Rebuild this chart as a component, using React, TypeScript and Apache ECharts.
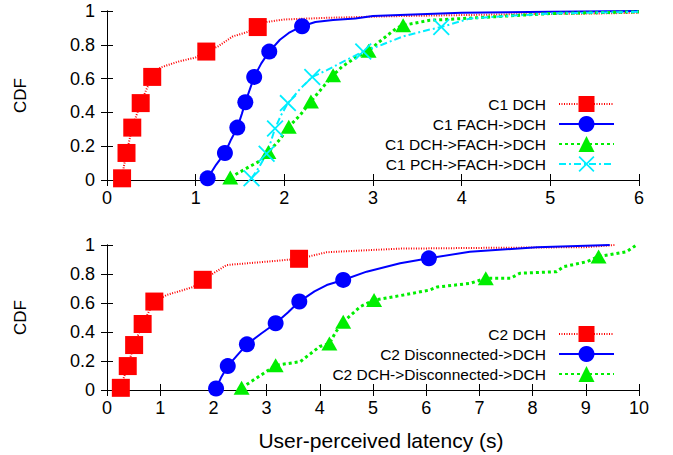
import React, { useEffect, useRef } from "react";
import * as echarts from "echarts";

// [latency (s), CDF, marker?]
const c1Dch: number[][] = [
  [0.17, 0.01, 1], [0.19, 0.08, 0], [0.22, 0.16, 1], [0.25, 0.23, 0], [0.285, 0.31, 1],
  [0.33, 0.38, 0], [0.38, 0.455, 1], [0.44, 0.53, 0], [0.51, 0.61, 1], [0.6, 0.665, 0],
  [0.8, 0.7, 0], [1.0, 0.725, 0], [1.12, 0.76, 1], [1.25, 0.79, 0], [1.42, 0.85, 0],
  [1.58, 0.875, 0], [1.7, 0.905, 1], [1.8, 0.935, 0], [2.0, 0.95, 0], [2.5, 0.96, 0],
  [3.3, 0.97, 0], [4.5, 0.98, 0], [5.5, 0.985, 0], [6.0, 0.99, 0],
];
const c1FachDch: number[][] = [
  [1.135, 0.01, 1], [1.23, 0.09, 0], [1.33, 0.16, 1], [1.4, 0.24, 0], [1.47, 0.31, 1],
  [1.52, 0.39, 0], [1.56, 0.46, 1], [1.61, 0.535, 0], [1.66, 0.61, 1], [1.74, 0.69, 0],
  [1.83, 0.76, 1], [1.95, 0.83, 0], [2.05, 0.87, 0], [2.2, 0.91, 1], [2.35, 0.935, 0],
  [2.55, 0.947, 0], [2.8, 0.955, 0], [3.0, 0.97, 0], [3.3, 0.976, 0], [4.0, 0.99, 0],
  [5.0, 0.995, 0], [6.0, 1.0, 0],
];
const c1DchFachDch: number[][] = [
  [1.39, 0.015, 1], [1.61, 0.08, 0], [1.75, 0.12, 0], [1.82, 0.165, 1], [1.95, 0.24, 0],
  [2.05, 0.315, 1], [2.18, 0.385, 0], [2.3, 0.465, 1], [2.42, 0.54, 0], [2.55, 0.62, 1],
  [2.65, 0.67, 0], [2.82, 0.73, 0], [2.95, 0.765, 1], [3.1, 0.83, 0], [3.27, 0.9, 0],
  [3.34, 0.915, 1], [3.64, 0.945, 0], [4.0, 0.955, 0], [4.5, 0.97, 0], [5.0, 0.985, 0],
  [6.0, 0.995, 0],
];
const c1PchFachDch: number[][] = [
  [1.63, 0.01, 1], [1.72, 0.08, 0], [1.8, 0.155, 1], [1.85, 0.23, 0], [1.895, 0.305, 1],
  [1.96, 0.38, 0], [2.04, 0.455, 1], [2.18, 0.54, 0], [2.315, 0.61, 1], [2.48, 0.65, 0],
  [2.7, 0.71, 0], [2.89, 0.76, 1], [3.1, 0.8, 0], [3.34, 0.85, 0], [3.64, 0.89, 0],
  [3.77, 0.905, 1], [4.09, 0.955, 0], [4.5, 0.97, 0], [5.0, 0.985, 0], [6.0, 0.995, 0],
];
const c2Dch: number[][] = [
  [0.26, 0.015, 1], [0.32, 0.09, 0], [0.39, 0.165, 1], [0.45, 0.24, 0], [0.51, 0.31, 1],
  [0.59, 0.385, 0], [0.67, 0.455, 1], [0.78, 0.535, 0], [0.89, 0.61, 1], [1.12, 0.655, 0],
  [1.62, 0.71, 0], [1.8, 0.76, 1], [2.0, 0.805, 0], [2.25, 0.862, 0], [3.0, 0.885, 0],
  [3.61, 0.905, 1], [4.13, 0.95, 0], [5.5, 0.975, 0], [7.0, 0.98, 0], [9.0, 0.985, 0],
  [9.55, 1.0, 0],
];
const c2DiscDch: number[][] = [
  [2.05, 0.01, 1], [2.15, 0.09, 0], [2.27, 0.165, 1], [2.45, 0.24, 0], [2.63, 0.315, 1],
  [2.9, 0.39, 0], [3.17, 0.46, 1], [3.4, 0.535, 0], [3.615, 0.61, 1], [3.9, 0.68, 0],
  [4.13, 0.724, 0], [4.44, 0.759, 1], [4.88, 0.816, 0], [5.51, 0.874, 0], [6.05, 0.908, 1],
  [6.82, 0.954, 0], [8.08, 0.984, 0], [9.45, 1.0, 0],
];
const c2DchDiscDch: number[][] = [
  [2.53, 0.015, 1], [2.8, 0.08, 0], [3.17, 0.17, 1], [3.63, 0.195, 0], [4.0, 0.3, 0],
  [4.18, 0.32, 1], [4.3, 0.4, 0], [4.44, 0.47, 1], [4.76, 0.575, 0], [5.02, 0.62, 1],
  [5.57, 0.655, 0], [6.07, 0.69, 0], [6.2, 0.71, 0], [6.82, 0.735, 0], [7.12, 0.77, 1],
  [7.58, 0.77, 0], [7.76, 0.805, 0], [8.45, 0.816, 0], [8.58, 0.85, 0], [9.02, 0.885, 0],
  [9.24, 0.92, 1], [9.77, 0.954, 0], [9.95, 1.0, 0],
];

const topNames = ["C1 DCH", "C1 FACH->DCH", "C1 DCH->FACH->DCH", "C1 PCH->FACH->DCH"];
const bottomNames = ["C2 DCH", "C2 Disconnected->DCH", "C2 DCH->Disconnected->DCH"];
const topXMax = 6;
const bottomXMax = 10;
const xTitle = "User-perceived latency (s)";
const yTitle = "CDF";

const FONT = "Liberation Sans, Arial, Helvetica, sans-serif";
const RED = "#ff0000";
const BLUE = "#0000ff";
const GREEN = "#00ee00";
const CYAN = "#00eeff";
const CROSS =
  "path://M0,1.5L1.5,0L10,8.5L18.5,0L20,1.5L11.5,10L20,18.5L18.5,20L10,11.5L1.5,20L0,18.5L8.5,10Z";

const toData = (pts: number[][]) =>
  pts.map(([x, y, m]) => (m ? [x, y] : { value: [x, y], symbol: "none" }));

export default function App() {
  const ref = useRef<HTMLDivElement>(null);
  useEffect(() => {
    if (!ref.current) return;
    const chart = echarts.init(ref.current, undefined, { renderer: "svg" });

    const grids = [
      { left: 107, top: 11, width: 532, height: 169 },
      { left: 107, top: 245, width: 532, height: 145 },
    ];
    const axisLine = { show: true, lineStyle: { color: "#000", width: 1 } };
    const tick = { show: true, inside: true, length: 6, lineStyle: { color: "#000", width: 1 } };
    const label = { fontFamily: FONT, fontSize: 18, color: "#000" };

    const xAxes: any[] = [];
    const yAxes: any[] = [];
    [topXMax, bottomXMax].forEach((mx, g) => {
      xAxes.push({
        type: "value", gridIndex: g, position: "bottom", min: 0, max: mx, interval: 1,
        axisLine, axisTick: tick, splitLine: { show: false },
        axisLabel: { ...label, margin: 9 },
        ...(g === 1
          ? {
              name: xTitle, nameLocation: "middle", nameGap: 40,
              nameTextStyle: { fontFamily: FONT, fontSize: 21, color: "#000", padding: [0, 0, 0, 16] },
            }
          : {}),
      });
      xAxes.push({
        type: "value", gridIndex: g, position: "top", min: 0, max: mx, interval: 1,
        axisLine, axisTick: tick, splitLine: { show: false }, axisLabel: { show: false },
      });
      yAxes.push({
        type: "value", gridIndex: g, position: "left", min: 0, max: 1, interval: 0.2,
        axisLine, axisTick: tick, splitLine: { show: false },
        axisLabel: { ...label, margin: 12 },
        name: yTitle, nameLocation: "middle", nameGap: 78, nameRotate: 90,
        nameTextStyle: { fontFamily: FONT, fontSize: 17, color: "#000" },
      });
      yAxes.push({
        type: "value", gridIndex: g, position: "right", min: 0, max: 1, interval: 0.2,
        axisLine, axisTick: tick, splitLine: { show: false }, axisLabel: { show: false },
      });
    });

    const mk = (
      name: string, pts: number[][], g: number, color: string, lineType: any, width: number,
      symbol: string, symbolSize: any
    ) => ({
      name, type: "line", xAxisIndex: g * 2, yAxisIndex: g * 2, data: toData(pts),
      symbol, symbolSize, showSymbol: true, clip: false,
      lineStyle: { color, width, type: lineType },
      itemStyle: { color },
      emphasis: { disabled: true },
    });

    const series = [
      mk(topNames[0], c1Dch, 0, RED, [1, 1.5], 2, "rect", 18),
      mk(topNames[1], c1FachDch, 0, BLUE, "solid", 2, "circle", 16),
      mk(topNames[2], c1DchFachDch, 0, GREEN, [3, 3], 3, "triangle", [16, 14]),
      mk(topNames[3], c1PchFachDch, 0, CYAN, [7, 3, 2, 3], 2, CROSS, 17),
      mk(bottomNames[0], c2Dch, 1, RED, [1, 1.5], 2, "rect", 18),
      mk(bottomNames[1], c2DiscDch, 1, BLUE, "solid", 2, "circle", 16),
      mk(bottomNames[2], c2DchDiscDch, 1, GREEN, [3, 3], 3, "triangle", [16, 14]),
    ];

    const legendBase = {
      orient: "vertical", right: 58, itemWidth: 55, itemHeight: 20, itemGap: 4,
      align: "right", padding: 0, selectedMode: false,
      textStyle: { fontFamily: FONT, fontSize: 15.5, color: "#000", padding: [0, 8, 0, 0] },
    };

    chart.setOption({
      animation: false,
      backgroundColor: "#fff",
      grid: grids,
      xAxis: xAxes,
      yAxis: yAxes,
      legend: [
        { ...legendBase, data: topNames, top: 96 },
        { ...legendBase, data: bottomNames, top: 326 },
      ],
      series,
    });
    return () => chart.dispose();
  }, []);
  return (
    <div
      ref={ref}
      style={{ position: "fixed", left: 0, top: 0, width: 673, height: 455, background: "#fff" }}
    />
  );
}
